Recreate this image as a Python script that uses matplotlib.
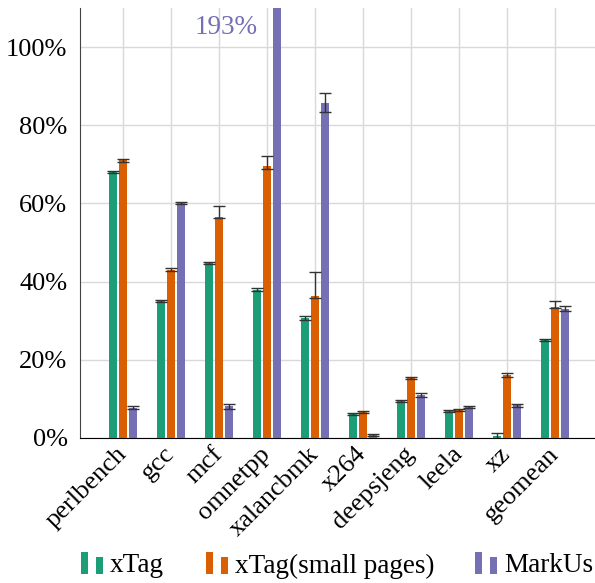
import matplotlib.pyplot as plt
import matplotlib.patches as mpatches
import numpy as np

# data (percent overhead)
benchmarks = ['perlbench', 'gcc', 'mcf', 'omnetpp', 'xalancbmk', 'x264',
              'deepsjeng', 'leela', 'xz', 'geomean']
xtag = [68.1, 35.1, 44.8, 37.9, 30.7, 6.2, 9.5, 6.9, 0.6, 25.0]
xtag_err = [0.3, 0.3, 0.3, 0.4, 0.6, 0.2, 0.2, 0.2, 0.8, 0.3]
xtag_small = [71.0, 43.1, 56.6, 69.5, 36.4, 6.7, 15.4, 7.2, 16.0, 33.6]
xtag_small_lo = [0.3, 0.4, 0.4, 0.8, 0.6, 0.2, 0.2, 0.2, 0.4, 0.4]
xtag_small_hi = [0.3, 0.5, 2.7, 2.6, 6.0, 0.2, 0.2, 0.2, 0.6, 1.4]
markus = [7.8, 60.1, 8.1, 193.0, 85.8, 0.7, 11.0, 8.0, 8.4, 33.1]
markus_err = [0.3, 0.2, 0.6, 0.0, 2.5, 0.2, 0.4, 0.2, 0.4, 0.7]

colors = ['#1b9e77', '#d95f02', '#7570b3']
err_color = '#333333'

plt.rcParams['font.family'] = ['Liberation Serif', 'DejaVu Serif']

fig = plt.figure(figsize=(5.95, 5.83), dpi=100, facecolor='white')
ax = fig.add_axes([80 / 595, 145 / 583, 1 - 80 / 595, 430 / 583])

x = np.arange(len(benchmarks))
off = 0.208
w = 0.167
ekw = dict(ecolor=err_color, elinewidth=1.0, capsize=4, capthick=1.0)

ax.bar(x - off, xtag, w, color=colors[0], yerr=xtag_err, error_kw=ekw, zorder=3)
ax.bar(x, xtag_small, w, color=colors[1],
       yerr=[xtag_small_lo, xtag_small_hi], error_kw=ekw, zorder=3)
ax.bar(x + off, markus, w, color=colors[2], yerr=markus_err, error_kw=ekw, zorder=3)

# clipped MarkUs bar label
i_clip = int(np.argmax(markus))
ax.text(x[i_clip] + off - 0.4, 105, f'{markus[i_clip]:.0f}%', color=colors[2],
        ha='right', va='center', fontsize=19.5)

ax.set_xlim(-0.896, 9.83)
ax.set_ylim(0, 110)
ax.set_yticks([0, 20, 40, 60, 80, 100])
ax.set_yticklabels([f'{v}%' for v in [0, 20, 40, 60, 80, 100]], fontsize=19)
ax.set_xticks(x)
ax.set_xticklabels(benchmarks, rotation=45, ha='right', va='center',
                   rotation_mode='anchor', fontsize=19)
ax.tick_params(length=0)
ax.tick_params(axis='y', pad=9)
ax.tick_params(axis='x', pad=9)

ax.grid(True, color='#d9d9d9', linewidth=1.0, zorder=0)
ax.set_axisbelow(True)
for s in ['top', 'right']:
    ax.spines[s].set_visible(False)
ax.spines['left'].set_color('#444444')
ax.spines['bottom'].set_color('black')

# legend drawn as pgfplots-style double bars
labels = ['xTag', 'xTag(small pages)', 'MarkUs']
leg_x = [81, 206, 475]
for lx, lab, c in zip(leg_x, labels, colors):
    for dx, top in [(0, 552), (15, 557)]:
        fig.add_artist(mpatches.Rectangle(((lx + dx) / 595, (583 - 574) / 583),
                                          7 / 595, (574 - top) / 583,
                                          transform=fig.transFigure,
                                          color=c, lw=0))
    fig.text((lx + 29) / 595, (583 - 566) / 583, lab, fontsize=19.5,
             ha='left', va='center')

plt.savefig('out.png', dpi=100)
